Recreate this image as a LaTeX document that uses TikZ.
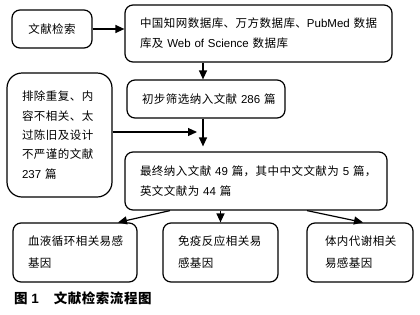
\documentclass[tikz,border=0pt]{standalone}
\usepackage{fontspec}
\setmainfont{Noto Sans CJK SC}[LetterSpace=4]
\newfontfamily\latfont{Liberation Sans}
\newcommand{\lat}[1]{{\latfont #1}}
\usetikzlibrary{arrows.meta}
\begin{document}
\begin{tikzpicture}[x=1pt,y=-1pt,
 box/.style={draw=black, line width=1.2pt, rounded corners=8pt, inner ysep=0pt, align=left, font=\fontsize{11.5}{20}\selectfont},
 arr/.style={line width=1.2pt, -{Triangle[length=9pt,width=8pt]}}]
\useasboundingbox (0,0) rectangle (420,314);
\node[box, align=center, minimum width=80pt, minimum height=38pt, inner xsep=0pt] (A) at (52,29) {文献检索};
\node[box, minimum width=267pt, minimum height=57pt, inner xsep=15pt, text width=237pt] (B) at (258.5,33.5)
 {中国知网数据库、万方数据库、\lat{PubMed}~数据\\库及~\lat{Web~of~Science}~数据库};
\node[box, minimum width=158pt, minimum height=38pt, inner xsep=15pt, text width=128pt] (C) at (206,99)
 {初步筛选纳入文献~\lat{286}~篇};
\node[box, rounded corners=15pt, font=\fontsize{11.5}{19.3}\selectfont, minimum width=105pt, minimum height=124pt, inner xsep=15pt, text width=75pt] (D) at (59.5,135)
 {排除重复、内\\容不相关、太\\过陈旧及设计\\不严谨的文献\\\lat{237}~篇};
\node[box, minimum width=262pt, minimum height=58pt, inner xsep=15pt, text width=232pt] (E) at (256,181)
 {最终纳入文献~\lat{49}~篇，其中中文文献为~\lat{5}~篇，\\英文文献为~\lat{44}~篇};
\node[box, font=\fontsize{11.5}{22}\selectfont, minimum width=124pt, minimum height=59pt, inner xsep=15pt, text width=94pt] (F1) at (75,252.5)
 {血液循环相关易感\\基因};
\node[box, font=\fontsize{11.5}{22}\selectfont, minimum width=115pt, minimum height=59pt, inner xsep=15pt, text width=85pt] (F2) at (220.5,252.5)
 {免疫反应相关易\\感基因};
\node[box, font=\fontsize{11.5}{22}\selectfont, minimum width=106pt, minimum height=59pt, inner xsep=18pt, text width=70pt] (F3) at (360,252.5)
 {体内代谢相关\\易感基因};
\node[anchor=west, font=\fontsize{13.5}{15}\selectfont\bfseries, inner sep=0pt] (cap) at (14,298) {图~\lat{1}\hspace{15pt}文献检索流程图};
\coordinate (j) at (203,132);
\draw[arr] (A.east) -- (B.west |- A.east);
\draw[arr] (j |- B.south) -- (j |- C.north);
\draw[arr, shorten >=5pt] (j |- C.south) -- (j |- E.north);
\draw[arr, shorten >=6pt] (D.east |- j) -- (j);
\draw[arr] ([xshift=-86pt]E.south) -- ([xshift=43pt]F1.north);
\draw[arr] (F2.north |- E.south) -- (F2.north);
\draw[arr] ([xshift=51pt]E.south) -- ([xshift=3pt]F3.north);
\end{tikzpicture}
\end{document}
